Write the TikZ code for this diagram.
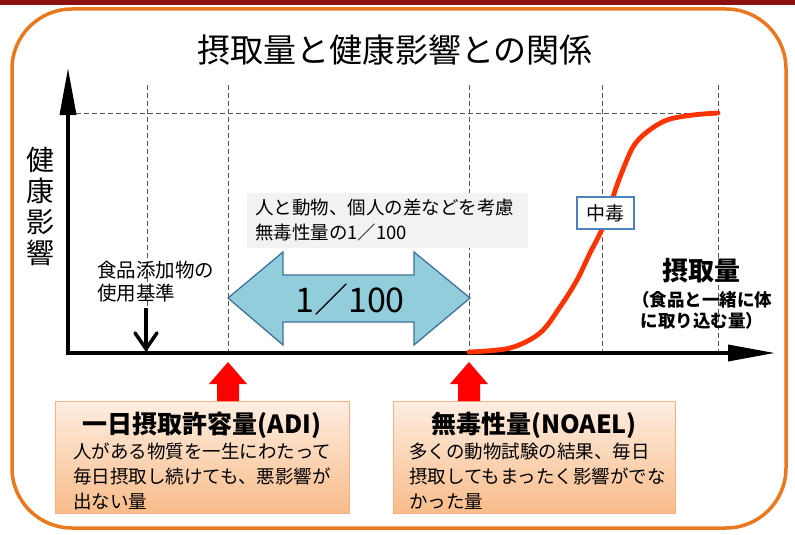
\documentclass[tikz,border=0pt]{standalone}
\usepackage{fontspec}
\setmainfont{Noto Sans CJK JP}
\usetikzlibrary{arrows.meta}
\newcommand\setfs[2]{\fontsize{#1}{#2}\selectfont}
\definecolor{frameorange}{HTML}{E8791E}
\definecolor{darkbar}{HTML}{8B1010}
\definecolor{curvered}{HTML}{FF3300}
\definecolor{arrowblue}{HTML}{92CDDC}
\definecolor{arrowedge}{HTML}{41719C}
\definecolor{notegray}{HTML}{F2F2F2}
\definecolor{boxedge}{HTML}{F4B183}
\definecolor{boxtop}{HTML}{FDEEE2}
\definecolor{boxbottom}{HTML}{F9BC8A}
\definecolor{poisonedge}{HTML}{4F81BD}
\definecolor{gridgray}{HTML}{555555}
\tikzset{
  griddash/.style={gridgray, line width=0.8pt, dash pattern=on 5pt off 3pt},
  axisline/.style={line width=3.5pt, -{Triangle[length=47pt,width=16pt]}},
  infobox/.style={draw=boxedge, line width=1pt, top color=boxtop, bottom color=boxbottom, inner sep=0pt},
  boxtitle/.style={font=\setfs{25}{28}\bfseries, inner sep=0pt},
  boxbody/.style={font=\setfs{18.5}{25}, align=left, anchor=west, inner sep=0pt},
  redarrow/.style={fill=red},
}
\begin{document}
\begin{tikzpicture}[x=1pt,y=-1pt]
\useasboundingbox (0,0) rectangle (795,535);
\fill[white] (0,0) rectangle (795,535);
\fill[darkbar] (0,0) rectangle (795,5);
\draw[frameorange, line width=3.5pt, rounded corners=60pt] (12,9) rectangle (786,528);

\node[inner sep=0pt] (title) at (395,50) {\setfs{33}{36}摂取量と健康影響との関係};

% grid
\foreach \x in {147,228,469,602,718} \draw[griddash] (\x,85) -- (\x,353);
\draw[griddash] (68,113) -- (718,113);

% axes
\coordinate (origin) at (68,353);
\coordinate (ytip) at (68,68);
\coordinate (xtip) at (775,353);
\draw[axisline] (origin) -- (ytip);
\draw[axisline] ([xshift=-1.75pt]origin) -- (xtip);

% curve
\draw[curvered, line width=4.8pt, line cap=round] plot[smooth, tension=0.55] coordinates {
 (469,352) (510,348) (540,333) (560,307) (577,280) (590,253) (602,229) (613,197)
 (620,177) (633,147) (647,132) (667,120) (693,115) (718,113)};

\node[draw=poisonedge, line width=1.2pt, fill=white, minimum width=57pt, minimum height=32pt, inner sep=0pt, font=\setfs{19}{21}] (poison) at (605.5,213) {中毒};

% note
\node[fill=notegray, minimum width=281pt, minimum height=55pt, text width=265pt, inner xsep=8pt, inner ysep=0pt, align=left, font=\setfs{18.5}{25}] (note) at (387.5,220.5) {人と動物、個人の差などを考慮\\無毒性量の1／100};

% blue double arrow
\filldraw[fill=arrowblue, draw=arrowedge, line width=1.3pt, line join=miter]
 (228,298) -- (283,252) -- (283,275) -- (414,275) -- (414,252) -- (470,298)
 -- (414,345) -- (414,322) -- (283,322) -- (283,345) -- cycle;
\node[inner sep=0pt] (ratio) at (350,300) {\setfs{34}{36}1／100};

% axis labels
\node[align=center, inner sep=0pt, font=\setfs{28}{31}] (ylabel) at (41,206) {健\\康\\影\\響};
\node[inner sep=0pt, font=\setfs{26}{28}\bfseries] (xlabel) at (701,271) {摂取量};
\node[align=center, inner sep=0pt, font=\setfs{17.5}{21}\bfseries] (xsub) at (702,310) {（食品と一緒に体\\に取り込む量）};

% additive
\node[align=left, anchor=west, inner sep=0pt, font=\setfs{19.5}{23}] (additive) at (97,282) {食品添加物の\\使用基準};
\coordinate (addstart) at (146,308);
\coordinate (addend) at (146,352);
\draw[line width=3.5pt, -{Straight Barb[length=16pt,width=22pt,line cap=round]}] (addstart) -- (addend);

% boxes
\node[infobox, minimum width=294pt, minimum height=112pt] (adi) at (202,457) {};
\node[boxtitle] (adititle) at (202,425) {一日摂取許容量(ADI)};
\node[boxbody] (adibody) at (73,476) {人がある物質を一生にわたって\\毎日摂取し続けても、悪影響が\\出ない量};

\node[infobox, minimum width=282pt, minimum height=112pt] (noael) at (534,457) {};
\node[boxtitle] (noaeltitle) at (534,425) {無毒性量(NOAEL)};
\node[boxbody] (noaelbody) at (409,476) {多くの動物試験の結果、毎日\\摂取してもまったく影響がでな\\かった量};

% red arrows
\fill[redarrow] (228,362) -- (247,384) -- (239,384) -- (239,401) -- (217,401) -- (217,384) -- (209,384) -- cycle;
\fill[redarrow] (469,362) -- (488,384) -- (480,384) -- (480,401) -- (458,401) -- (458,384) -- (450,384) -- cycle;
\end{tikzpicture}
\end{document}
